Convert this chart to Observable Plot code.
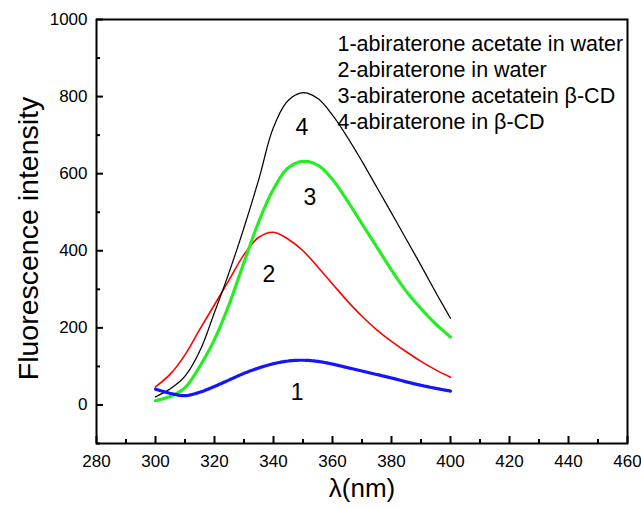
<!DOCTYPE html>
<html>
<head>
<meta charset="utf-8">
<script src="https://cdn.jsdelivr.net/npm/d3@7"></script>
<script src="https://cdn.jsdelivr.net/npm/@observablehq/plot@0.6"></script>
<style>
  html, body { margin: 0; padding: 0; background: #fff; }
</style>
</head>
<body>
<div id="chart"></div>
<script>
// Wavelength grid (nm)
const wavelength = [300,305,310,315,320,325,330,335,340,345,350,355,360,365,370,375,380,385,390,395,400];
// 1 - abiraterone acetate in water (blue)
const series1 = [41,30,24,33,48,65,82,96,107,114,116,113,106,97,88,79,70,60,51,43,36];
// 2 - abiraterone in water (red)
const series2 = [47,80,130,196,260,325,390,435,448,430,400,358,314,270,230,195,165,138,113,91,72];
// 3 - abiraterone acetate in beta-CD (green)
const series3 = [11,22,45,100,170,262,370,475,560,615,632,622,585,530,470,410,350,295,250,210,176];
// 4 - abiraterone in beta-CD (black)
const series4 = [21,42,75,140,240,345,460,585,720,790,810,795,752,695,632,565,498,430,362,292,225];

const xMajorTicks = [280,300,320,340,360,380,400,420,440,460];
const xMinorTicks = [290,310,330,350,370,390,410,430,450];
const yMajorTicks = [0,200,400,600,800,1000];
const yMinorTicks = [-100,100,300,500,700,900];

const legendLines = [
  "1-abiraterone acetate in water",
  "2-abiraterone in water",
  "3-abiraterone acetatein β-CD",
  "4-abiraterone in β-CD"
];
const curveLabelText = ["1","2","3","4"];
const curveLabelX = [348, 338.4, 352.3, 349.6];
const curveLabelY = [31, 337, 539, 720];

const toRows = (vals) => wavelength.map((w, i) => ({w, v: vals[i]}));

const FONT = "'Liberation Sans', Arial, Helvetica, sans-serif";

const chart = Plot.plot({
  width: 641,
  height: 509,
  marginLeft: 96,
  marginRight: 14,
  marginTop: 19,
  marginBottom: 66,
  style: {fontFamily: FONT, background: "#fff", color: "#000", overflow: "visible"},
  x: {domain: [280, 460]},
  y: {domain: [-100, 1000]},
  marks: [
    Plot.line(toRows(series2), {x: "w", y: "v", stroke: "#ff0000", strokeWidth: 1.6, curve: "catmull-rom"}),
    Plot.line(toRows(series4), {x: "w", y: "v", stroke: "#000", strokeWidth: 1.3, strokeDasharray: "1.2,0.8", curve: "catmull-rom"}),
    Plot.line(toRows(series3), {x: "w", y: "v", stroke: "#22ee22", strokeWidth: 3.2, strokeDasharray: "2.2,1.6", curve: "catmull-rom"}),
    Plot.line(toRows(series1), {x: "w", y: "v", stroke: "#1414ff", strokeWidth: 3.2, strokeDasharray: "2.2,1", curve: "catmull-rom"}),
    Plot.tickX(xMajorTicks, {x: d => d, insetTop: 417, strokeWidth: 2, stroke: "#000"}),
    Plot.tickX(xMinorTicks, {x: d => d, insetTop: 420, strokeWidth: 2, stroke: "#000"}),
    Plot.tickY(yMajorTicks, {y: d => d, insetRight: 524, strokeWidth: 2, stroke: "#000"}),
    Plot.tickY(yMinorTicks, {y: d => d, insetRight: 527, strokeWidth: 2, stroke: "#000"}),
    Plot.frame({stroke: "#000", strokeWidth: 2}),
    Plot.axisX({ticks: xMajorTicks, tickSize: 0, tickPadding: 11, fontSize: 17, label: null, tickFormat: d => String(d)}),
    Plot.axisY({ticks: yMajorTicks, tickSize: 0, tickPadding: 9, fontSize: 17, label: null, tickFormat: d => String(d)}),
    Plot.text(curveLabelText, {x: curveLabelX, y: curveLabelY, text: d => d, fontSize: 23, fill: "#000"}),
    Plot.text([legendLines.join("\n")], {frameAnchor: "top-left", dx: 241, dy: 12.5, textAnchor: "start", lineAnchor: "top", lineHeight: 1.22, fontSize: 21.5, fill: "#000"}),
    Plot.text(["Fluorescence intensity"], {frameAnchor: "left", textAnchor: "middle", lineAnchor: "middle", dx: -68, dy: 7, rotate: -90, fontSize: 28.5, fill: "#000"}),
    Plot.text(["λ(nm)"], {frameAnchor: "bottom", dy: 53, fontSize: 26, fill: "#000"})
  ]
});
document.getElementById("chart").appendChild(chart);
</script>
</body>
</html>
